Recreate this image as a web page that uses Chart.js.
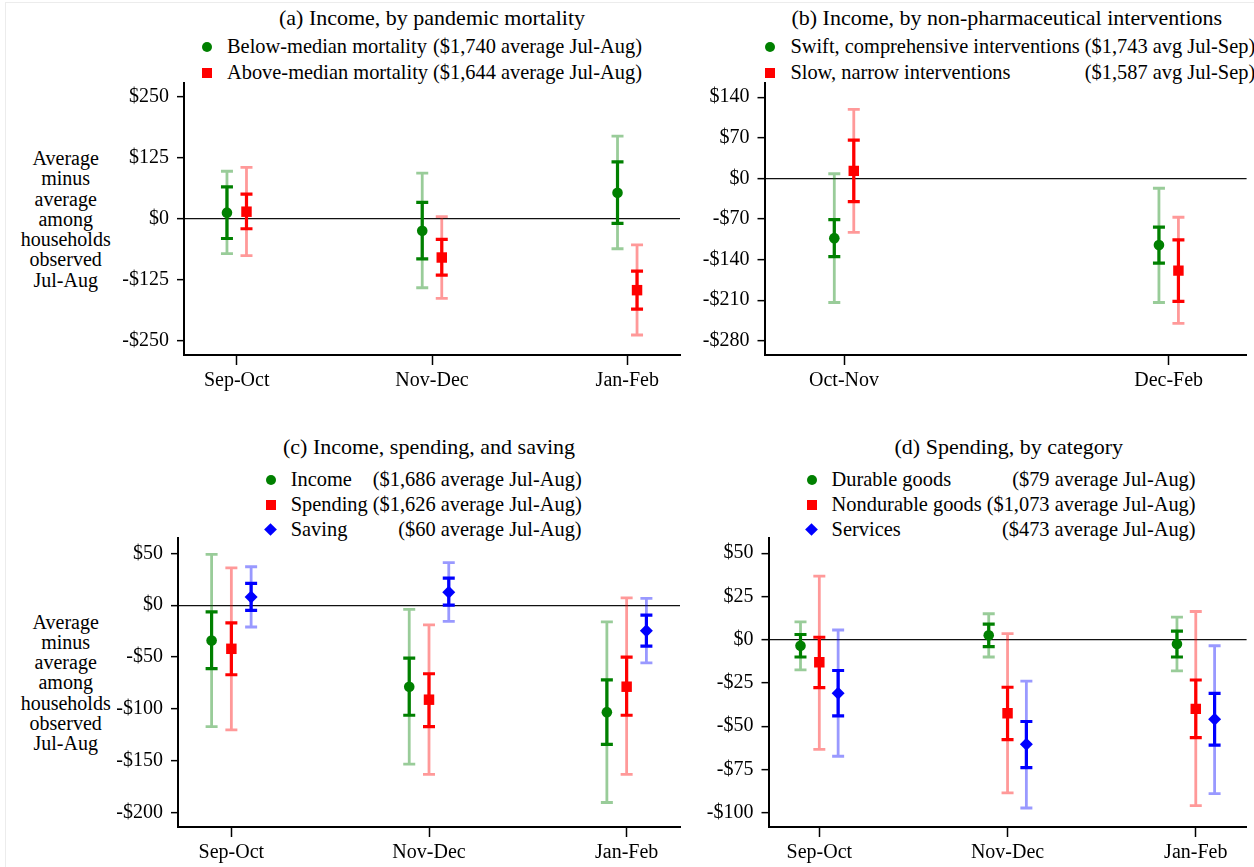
<!DOCTYPE html>
<html>
<head>
<meta charset="utf-8">
<script src="https://cdn.jsdelivr.net/npm/chart.js@4.4.1/dist/chart.umd.min.js"></script>
<style>
  html, body { margin: 0; padding: 0; background: #fff; }
  body { width: 1254px; height: 867px; position: relative; overflow: hidden;
         font-family: 'Liberation Serif', 'Times New Roman', serif; color: #000; }
  .frame { position: absolute; left: 5px; top: 2px; right: -2px; bottom: -2px;
           border-left: 1px solid #ececec; border-top: 1px solid #ececec; }
  canvas { position: absolute; }
  .title { position: absolute; font-size: 22px; line-height: 26px; text-align: center; white-space: nowrap; }
  .ytitle { position: absolute; width: 130px; font-size: 20px; line-height: 20.3px; text-align: center; }
  .legend { position: absolute; display: grid; grid-template-columns: 30px auto auto;
            column-gap: 0; font-size: 20.4px; white-space: pre; }
  .legend .mk { display: flex; align-items: center; }
  .legend .v { text-align: right; padding-left: 5px; }
</style>
</head>
<body>
<div class="frame"></div>
<script>
// period labels and axis ticks
const monthsA = ['Sep-Oct', 'Nov-Dec', 'Jan-Feb'];
const monthsB = ['Oct-Nov', 'Dec-Feb'];
const ticksA = [-250, -125, 0, 125, 250];
const ticksB = [-280, -210, -140, -70, 0, 70, 140];
const ticksC = [-200, -150, -100, -50, 0, 50];
const ticksD = [-100, -75, -50, -25, 0, 25, 50];

// (a) income by pandemic mortality: estimate, inner band, outer band
const belowEst = [13, -24, 54];
const belowIn = [[-40, 66], [-82, 34], [-9, 117]];
const belowOut = [[-71, 98], [-141, 94], [-61, 170]];
const aboveEst = [15, -79, -146];
const aboveIn = [[-20, 51], [-115, -42], [-185, -107]];
const aboveOut = [[-75, 106], [-163, 5], [-238, -53]];

// (b) income by non-pharmaceutical interventions
const swiftEst = [-103, -115];
const swiftIn = [[-135, -71], [-146, -84]];
const swiftOut = [[-214, 8], [-214, -17]];
const slowEst = [13, -159];
const slowIn = [[-40, 66], [-212, -106]];
const slowOut = [[-93, 119], [-250, -67]];

// (c) income, spending and saving
const incomeEst = [-34, -78.5, -103];
const incomeIn = [[-61, -6.5], [-106, -51], [-134, -72]];
const incomeOut = [[-117, 49], [-153, -4], [-190, -16]];
const spendEst = [-42, -91, -78.5];
const spendIn = [[-67, -17], [-117, -66], [-106, -50]];
const spendOut = [[-120, 36], [-163, -19], [-163, 7]];
const saveEst = [8, 12.5, -24.5];
const saveIn = [[-5, 21], [0, 26], [-39.5, -9.5]];
const saveOut = [[-21, 37], [-15.5, 41], [-55.5, 6.5]];

// (d) spending by category
const durEst = [-3.5, 2.5, -2.5];
const durIn = [[-10, 3], [-4, 9], [-10, 5]];
const durOut = [[-17.5, 10.3], [-10, 15], [-18, 13]];
const nondurEst = [-13, -42.5, -40];
const nondurIn = [[-27.7, 1.4], [-57.8, -27.5], [-56.6, -23.3]];
const nondurOut = [[-63.4, 36.8], [-88.6, 3.5], [-95.9, 16.3]];
const servEst = [-31, -60.5, -46];
const servIn = [[-44, -17.8], [-74, -47.3], [-61, -31]];
const servOut = [[-67.4, 5.6], [-97.3, -24], [-89, -3.5]];

const SERIF = "'Liberation Serif', 'Times New Roman', serif";
Chart.defaults.font.family = SERIF;
Chart.defaults.color = '#000';

const GREEN = { color: 'rgb(0,128,0)', light: 'rgba(0,128,0,0.4)', shape: 'circle', radius: 5.3 };
const RED = { color: 'rgb(255,0,0)', light: 'rgba(255,0,0,0.4)', shape: 'rect', radius: 7.4 };
const BLUE = { color: 'rgb(0,0,255)', light: 'rgba(0,0,255,0.4)', shape: 'rectRot', radius: 6.5 };

const yTitle = 'Average<br>minus<br>average<br>among<br>households<br>observed<br>Jul-Aug';

const panels = [
  {
    title: '(a) Income, by pandemic mortality',
    cats: monthsA, ticks: ticksA, yMin: -279, yMax: 279, xMin: 0.73, xMax: 3.27,
    series: [
      { name: 'Below-median mortality', note: '($1,740 average Jul-Aug)', est: belowEst, inner: belowIn, outer: belowOut, look: GREEN, shift: -0.05 },
      { name: 'Above-median mortality', note: '($1,644 average Jul-Aug)', est: aboveEst, inner: aboveIn, outer: aboveOut, look: RED, shift: 0.05 }
    ],
    box: { left: 90, top: 58, width: 600, height: 342, yw: 94, xh: 45, padRight: 10 },
    titleAt: { left: 184, top: 5, width: 496 },
    legendAt: { left: 197, top: 34.25, row: 25.5 },
    yTitleAt: { left: 0.7, top: 148 }
  },
  {
    title: '(b) Income, by non-pharmaceutical interventions',
    cats: monthsB, ticks: ticksB, yMin: -304.5, yMax: 164.5, xMin: 0.755, xMax: 2.24,
    series: [
      { name: 'Swift, comprehensive interventions', note: '($1,743 avg Jul-Sep)', est: swiftEst, inner: swiftIn, outer: swiftOut, look: GREEN, shift: -0.03 },
      { name: 'Slow, narrow interventions', note: '($1,587 avg Jul-Sep)', est: slowEst, inner: slowIn, outer: slowOut, look: RED, shift: 0.03 }
    ],
    box: { left: 690, top: 58, width: 564, height: 342, yw: 74.5, xh: 45, padRight: 5 },
    titleAt: { left: 764.5, top: 5, width: 484.5 },
    legendAt: { left: 760.4, top: 34.25, row: 25.5 },
    yTitleAt: null
  },
  {
    title: '(c) Income, spending, and saving',
    cats: monthsA, ticks: ticksC, yMin: -213.6, yMax: 64.7, xMin: 0.73, xMax: 3.27,
    series: [
      { name: 'Income', note: '($1,686 average Jul-Aug)', est: incomeEst, inner: incomeIn, outer: incomeOut, look: GREEN, shift: -0.1 },
      { name: 'Spending', note: '($1,626 average Jul-Aug)', est: spendEst, inner: spendIn, outer: spendOut, look: RED, shift: 0 },
      { name: 'Saving', note: '($60 average Jul-Aug)', est: saveEst, inner: saveIn, outer: saveOut, look: BLUE, shift: 0.1 }
    ],
    box: { left: 90, top: 513, width: 600, height: 354, yw: 88, xh: 40, padRight: 10 },
    titleAt: { left: 178, top: 434, width: 502 },
    legendAt: { left: 260.7, top: 467, row: 25 },
    yTitleAt: { left: 0.7, top: 611.5 }
  },
  {
    title: '(d) Spending, by category',
    cats: monthsA, ticks: ticksD, yMin: -108.3, yMax: 58.8, xMin: 0.73, xMax: 3.27,
    series: [
      { name: 'Durable goods', note: '($79 average Jul-Aug)', est: durEst, inner: durIn, outer: durOut, look: GREEN, shift: -0.1 },
      { name: 'Nondurable goods', note: '($1,073 average Jul-Aug)', est: nondurEst, inner: nondurIn, outer: nondurOut, look: RED, shift: 0 },
      { name: 'Services', note: '($473 average Jul-Aug)', est: servEst, inner: servIn, outer: servOut, look: BLUE, shift: 0.1 }
    ],
    box: { left: 690, top: 513, width: 564, height: 354, yw: 78.5, xh: 40, padRight: 5 },
    titleAt: { left: 768.5, top: 434, width: 480.5 },
    legendAt: { left: 801.6, top: 467, row: 25 },
    yTitleAt: null
  }
];

// confidence bands: light outer bar first, then the solid inner bar, both capped
function capBar(ctx, px, yA, yB, color, width) {
  ctx.strokeStyle = color;
  ctx.lineWidth = width;
  ctx.beginPath();
  ctx.moveTo(px, yA); ctx.lineTo(px, yB);
  ctx.moveTo(px - 6, yA); ctx.lineTo(px + 6, yA);
  ctx.moveTo(px - 6, yB); ctx.lineTo(px + 6, yB);
  ctx.stroke();
}

const errorBars = {
  id: 'errorBars',
  beforeDatasetsDraw(chart) {
    const { ctx, scales: { x, y } } = chart;
    ctx.save();
    chart.data.datasets.forEach(ds => {
      ds.data.forEach((p, i) => {
        const px = x.getPixelForValue(p.x);
        capBar(ctx, px, y.getPixelForValue(ds.outer[i][0]), y.getPixelForValue(ds.outer[i][1]), ds.lightColor, 2.8);
        capBar(ctx, px, y.getPixelForValue(ds.inner[i][0]), y.getPixelForValue(ds.inner[i][1]), ds.backgroundColor, 3.2);
      });
    });
    ctx.restore();
  }
};

const dollars = v => (v < 0 ? '-$' : '$') + Math.abs(v);

function legendMarker(look) {
  const m = document.createElement('span');
  m.style.display = 'inline-block';
  m.style.background = look.color;
  if (look.shape === 'circle') {
    m.style.width = '10px'; m.style.height = '10px'; m.style.borderRadius = '50%'; m.style.marginLeft = '5px';
  } else if (look.shape === 'rect') {
    m.style.width = '10px'; m.style.height = '10px'; m.style.marginLeft = '5px';
  } else {
    m.style.width = '9px'; m.style.height = '9px'; m.style.transform = 'rotate(45deg)'; m.style.marginLeft = '5.5px';
  }
  return m;
}

panels.forEach(p => {
  const t = document.createElement('div');
  t.className = 'title';
  t.textContent = p.title;
  Object.assign(t.style, { left: p.titleAt.left + 'px', top: p.titleAt.top + 'px', width: p.titleAt.width + 'px' });
  document.body.appendChild(t);

  const lg = document.createElement('div');
  lg.className = 'legend';
  Object.assign(lg.style, { left: p.legendAt.left + 'px', top: p.legendAt.top + 'px', lineHeight: p.legendAt.row + 'px' });
  p.series.forEach(s => {
    const c1 = document.createElement('div'); c1.className = 'mk'; c1.appendChild(legendMarker(s.look));
    const c2 = document.createElement('div'); c2.textContent = s.name;
    const c3 = document.createElement('div'); c3.className = 'v'; c3.textContent = s.note;
    lg.append(c1, c2, c3);
  });
  document.body.appendChild(lg);

  if (p.yTitleAt) {
    const yt = document.createElement('div');
    yt.className = 'ytitle';
    yt.innerHTML = yTitle;
    Object.assign(yt.style, { left: p.yTitleAt.left + 'px', top: p.yTitleAt.top + 'px' });
    document.body.appendChild(yt);
  }

  const cv = document.createElement('canvas');
  cv.width = p.box.width;
  cv.height = p.box.height;
  Object.assign(cv.style, { left: p.box.left + 'px', top: p.box.top + 'px', width: p.box.width + 'px', height: p.box.height + 'px' });
  document.body.appendChild(cv);

  new Chart(cv, {
    type: 'scatter',
    data: {
      datasets: p.series.map(s => ({
        label: s.name,
        data: s.est.map((v, i) => ({ x: i + 1 + s.shift, y: v })),
        inner: s.inner,
        outer: s.outer,
        lightColor: s.look.light,
        backgroundColor: s.look.color,
        borderColor: s.look.color,
        borderWidth: 0,
        pointStyle: s.look.shape,
        pointRadius: s.look.radius,
        pointHoverRadius: s.look.radius
      }))
    },
    options: {
      responsive: false,
      animation: false,
      events: [],
      layout: { padding: { top: 25, right: p.box.padRight, left: 0, bottom: 0 } },
      plugins: { legend: { display: false }, tooltip: { enabled: false } },
      scales: {
        x: {
          type: 'linear',
          min: p.xMin,
          max: p.xMax,
          afterBuildTicks: sc => { sc.ticks = p.cats.map((c, i) => ({ value: i + 1 })); },
          afterFit: sc => { sc.height = p.box.xh; },
          ticks: {
            callback: v => p.cats[Math.round(v) - 1],
            font: { family: SERIF, size: 20 },
            color: '#000', padding: 4, maxRotation: 0, autoSkip: false
          },
          grid: { drawOnChartArea: false, tickLength: 10, tickColor: '#000', tickWidth: 1.5 },
          border: { color: '#000', width: 2 }
        },
        y: {
          type: 'linear',
          min: p.yMin,
          max: p.yMax,
          afterBuildTicks: sc => { sc.ticks = p.ticks.map(v => ({ value: v })); },
          afterFit: sc => { sc.width = p.box.yw; },
          ticks: {
            callback: dollars,
            font: { family: SERIF, size: 20 },
            color: '#000', padding: 8
          },
          grid: {
            color: c => (c.tick && c.tick.value === 0 ? '#111' : 'rgba(0,0,0,0)'),
            lineWidth: 1.3, tickLength: 7, tickColor: '#000', tickWidth: 1.5
          },
          border: { color: '#000', width: 2 }
        }
      }
    },
    plugins: [errorBars]
  });
});
</script>
</body>
</html>
